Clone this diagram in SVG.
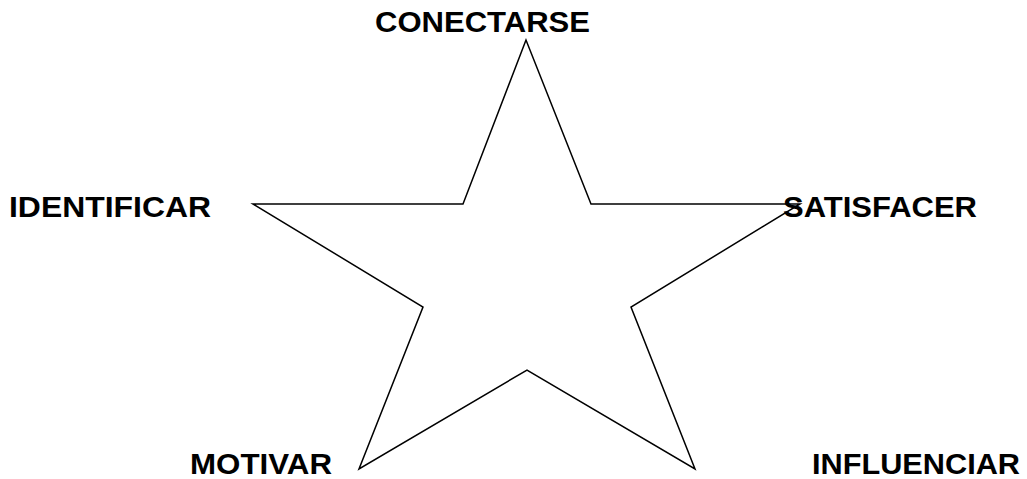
<svg xmlns="http://www.w3.org/2000/svg" width="1027" height="479" viewBox="0 0 1027 479">
<style>
.lbl{font-family:"Liberation Sans",Arial,sans-serif;font-weight:bold;font-size:29px;fill:#000}
.star{fill:#fff;stroke:#000;stroke-width:1.5;stroke-linejoin:miter}
</style>
<rect width="1027" height="479" fill="#fff"/>
<g id="star">
<polygon class="star" points="526,40 463,204 253,204 423,307 359,469 527,370 695,469 631,307 800,204 591,204"/>
</g>
<g id="connectors"></g>
<g id="conectarse"><text class="lbl" x="375" y="32" textLength="215" lengthAdjust="spacingAndGlyphs">CONECTARSE</text></g>
<g id="identificar"><text class="lbl" x="9" y="217" textLength="202" lengthAdjust="spacingAndGlyphs">IDENTIFICAR</text></g>
<g id="satisfacer"><text class="lbl" x="783" y="217" textLength="194" lengthAdjust="spacingAndGlyphs">SATISFACER</text></g>
<g id="motivar"><text class="lbl" x="190" y="474" textLength="142" lengthAdjust="spacingAndGlyphs">MOTIVAR</text></g>
<g id="influenciar"><text class="lbl" x="812" y="474" textLength="208" lengthAdjust="spacingAndGlyphs">INFLUENCIAR</text></g>
</svg>
